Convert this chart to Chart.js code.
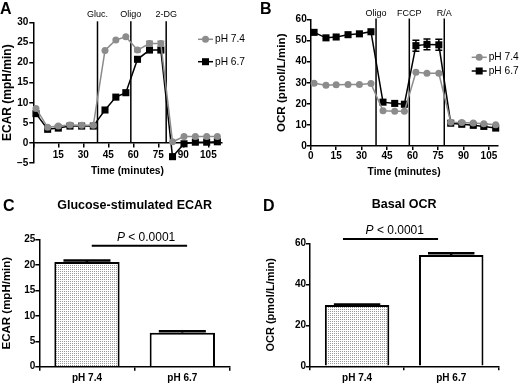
<!DOCTYPE html>
<html>
<head>
<meta charset="utf-8">
<script src="https://cdn.jsdelivr.net/npm/chart.js@4/dist/chart.umd.min.js"></script>
<style>
  body { margin: 0; background: #fff; }
  #fig { position: relative; width: 520px; height: 383px; overflow: hidden; }
  #fig canvas { position: absolute; }
  .tag { position: absolute; font: bold 16px "Liberation Sans", Arial, sans-serif; line-height: 1; }
</style>
</head>
<body>
<div id="fig">
  <canvas id="chartA" width="260" height="195" style="left:0;top:0"></canvas>
  <canvas id="chartB" width="260" height="195" style="left:260px;top:0"></canvas>
  <canvas id="chartC" width="260" height="188" style="left:0;top:195px"></canvas>
  <canvas id="chartD" width="260" height="188" style="left:260px;top:195px"></canvas>
  <div class="tag" style="left:0;top:1px">A</div>
  <div class="tag" style="left:260px;top:1px">B</div>
  <div class="tag" style="left:3px;top:198px">C</div>
  <div class="tag" style="left:263px;top:198px">D</div>
</div>
<script>
// ECAR trace (panel A)
const timeA = [1.6, 8.6, 15, 22, 29, 36, 43, 49.5, 55.5, 62.5, 69.7, 76.5, 83.5, 90.4, 97.2, 104, 110.4];
const ecar74 = [8.6, 3.9, 4.2, 4.5, 4.4, 4.4, 23.0, 25.6, 26.4, 23.1, 24.7, 24.7, 0.3, 1.6, 1.6, 1.6, 1.6];
const ecar74Err = [0, 0, 0, 0, 0, 0, 0, 0, 0, 0.4, 0.6, 0.6, 0, 0, 0, 0, 0];
const ecar67 = [7.3, 3.4, 3.7, 4.2, 4.2, 4.2, 8.2, 11.4, 12.5, 20.8, 23.1, 23.1, -3.4, -0.2, 0.2, 0.2, 0.3];
const injectionsA = [{at: 38.5, label: 'Gluc.'}, {at: 58.5, label: 'Oligo'}, {at: 79.7, label: '2-DG'}];

// OCR trace (panel B)
const timeB = [2, 9, 15, 22, 28.7, 35.5, 42.6, 49.5, 55.2, 62, 68.5, 75.5, 82.5, 89, 95.8, 102, 109];
const ocr74 = [29.8, 28.8, 29.0, 29.2, 29.2, 29.6, 16.7, 16.5, 16.5, 35.0, 34.5, 34.5, 11.3, 11.2, 10.9, 10.6, 10.1];
const ocr67 = [53.9, 51.3, 51.7, 52.8, 53.2, 54.2, 20.8, 20.2, 19.8, 47.6, 48.2, 48.0, 10.8, 10.3, 9.8, 9.3, 8.5];
const ocr67Err = [0, 0, 0, 0, 0, 0, 0, 0, 0, 2.6, 2.6, 2.6, 0, 0, 0, 0, 0];
const injectionsB = [{at: 38.5, label: 'Oligo'}, {at: 58.1, label: 'FCCP'}, {at: 78.7, label: 'R/A'}];

// summary bars (panels C, D)
const groups = ['pH 7.4', 'pH 6.7'];
const glucEcar = [20.6, 6.7];
const glucEcarErr = [0.3, 0.25];
const basalOcr = [29.9, 54.3];
const basalOcrErr = [0.3, 0.8];

const FONT = '"Liberation Sans", Arial, sans-serif';
const GREY = '#8c8c8c';
Chart.defaults.font.family = FONT;
Chart.defaults.color = '#000';
Chart.defaults.animation = false;

function dots() {
  const c = document.createElement('canvas');
  c.width = 2; c.height = 2;
  const g = c.getContext('2d');
  g.fillStyle = '#fff'; g.fillRect(0, 0, 2, 2);
  g.fillStyle = '#999'; g.fillRect(0, 0, 1, 1);
  return g.createPattern(c, 'repeat');
}

const decor = {
  id: 'decor',
  beforeDatasetsDraw(chart, args, opts) {
    const {ctx, chartArea: area, scales: {x, y}} = chart;
    if (!opts.events) return;
    ctx.save();
    ctx.strokeStyle = '#000';
    ctx.lineWidth = 1.5;
    ctx.fillStyle = '#000';
    ctx.font = '9px ' + FONT;
    ctx.textAlign = 'center';
    ctx.textBaseline = 'middle';
    opts.events.forEach(ev => {
      const px = x.getPixelForValue(ev.at);
      ctx.beginPath();
      ctx.moveTo(px, area.top - 1);
      ctx.lineTo(px, y.getPixelForValue(0));
      ctx.stroke();
      ctx.fillText(ev.label, px, area.top - opts.eventGap);
    });
    ctx.restore();
  },
  afterDatasetsDraw(chart, args, opts) {
    const {ctx, scales: {x, y}} = chart;
    const isBar = chart.config.type === 'bar';
    ctx.save();
    // error bars
    chart.data.datasets.forEach((ds, i) => {
      if (!ds.errors) return;
      chart.getDatasetMeta(i).data.forEach((pt, j) => {
        const err = ds.errors[j];
        if (!err) return;
        const v = ds.data[j];
        const val = typeof v === 'number' ? v : v.y;
        const top = y.getPixelForValue(val + err);
        ctx.beginPath();
        if (isBar) {
          const half = pt.width * 0.36;
          ctx.strokeStyle = '#000';
          ctx.lineWidth = 2.5;
          ctx.moveTo(pt.x, pt.y); ctx.lineTo(pt.x, top);
          ctx.moveTo(pt.x - half, top); ctx.lineTo(pt.x + half, top);
        } else {
          const bot = y.getPixelForValue(val - err);
          ctx.strokeStyle = ds.borderColor;
          ctx.lineWidth = 1.5;
          ctx.moveTo(pt.x, bot); ctx.lineTo(pt.x, top);
          ctx.moveTo(pt.x - 3.5, top); ctx.lineTo(pt.x + 3.5, top);
          ctx.moveTo(pt.x - 3.5, bot); ctx.lineTo(pt.x + 3.5, bot);
        }
        ctx.stroke();
      });
    });
    // legend
    if (opts.legend) {
      const L = opts.legend;
      ctx.font = '10.2px ' + FONT;
      ctx.textAlign = 'left';
      ctx.textBaseline = 'middle';
      chart.data.datasets.forEach((ds, i) => {
        const ly = L.y + i * L.step;
        ctx.strokeStyle = ds.borderColor;
        ctx.fillStyle = ds.borderColor;
        ctx.lineWidth = 1.5;
        ctx.beginPath(); ctx.moveTo(L.x, ly); ctx.lineTo(L.x + 15, ly); ctx.stroke();
        if (ds.pointStyle === 'rect') {
          ctx.fillRect(L.x + 4, ly - 3.5, 7, 7);
        } else {
          ctx.beginPath(); ctx.arc(L.x + 7.5, ly, 3.5, 0, Math.PI * 2); ctx.fill();
        }
        ctx.fillStyle = '#000';
        ctx.fillText(ds.label, L.x + 17, ly);
      });
    }
    // significance bar
    if (opts.bracket) {
      const b = opts.bracket;
      const by = y.getPixelForValue(b.y);
      ctx.strokeStyle = '#000';
      ctx.lineWidth = 2;
      ctx.beginPath();
      ctx.moveTo(x.getPixelForValue(b.from), by);
      ctx.lineTo(x.getPixelForValue(b.to), by);
      ctx.stroke();
      const itFont = 'italic 12px ' + FONT;
      const rgFont = '12px ' + FONT;
      ctx.font = itFont; const w1 = ctx.measureText('P').width;
      ctx.font = rgFont; const w2 = ctx.measureText(' < 0.0001').width;
      const tx = x.getPixelForValue(b.textAt) - (w1 + w2) / 2;
      const ty = y.getPixelForValue(b.textY);
      ctx.fillStyle = '#000';
      ctx.textAlign = 'left';
      ctx.textBaseline = 'middle';
      ctx.font = itFont; ctx.fillText('P', tx, ty);
      ctx.font = rgFont; ctx.fillText(' < 0.0001', tx + w1, ty);
    }
    ctx.restore();
  }
};

const axisGrid = {display: true, drawOnChartArea: false, color: '#000', lineWidth: 1.5, tickLength: 4};
const axisBorder = {color: '#000', width: 1.5};

function traceDatasets(times, vGrey, vBlack, errGrey, errBlack) {
  return [{
    label: 'pH 7.4',
    data: times.map((t, i) => ({x: t, y: vGrey[i]})),
    errors: errGrey,
    borderColor: GREY, backgroundColor: GREY, pointBackgroundColor: GREY,
    borderWidth: 1.5, pointStyle: 'circle', pointRadius: 3.5, pointBorderWidth: 0,
    tension: 0, clip: false
  }, {
    label: 'pH 6.7',
    data: times.map((t, i) => ({x: t, y: vBlack[i]})),
    errors: errBlack,
    borderColor: '#000', backgroundColor: '#000', pointBackgroundColor: '#000',
    borderWidth: 1.5, pointStyle: 'rect', pointRadius: 5, pointBorderWidth: 0,
    tension: 0, clip: false
  }];
}

// Panel A
new Chart(document.getElementById('chartA'), {
  type: 'line',
  data: {datasets: traceDatasets(timeA, ecar74, ecar67, ecar74Err, null)},
  options: {
    responsive: false,
    layout: {padding: {left: 0, top: 22.3, right: 38.3, bottom: 31.9}},
    plugins: {
      legend: {display: false}, tooltip: {enabled: false},
      decor: {events: injectionsA, eventGap: 7.3, legend: {x: 198, y: 39.3, step: 22.4}}
    },
    scales: {
      x: {
        type: 'linear', min: 0, max: 113, position: {y: 0},
        grid: axisGrid, border: axisBorder,
        ticks: {stepSize: 15, includeBounds: false, padding: 2.7, maxRotation: 0,
          font: {size: 10, weight: 'bold'}, callback: v => v === 0 ? '' : v},
        title: {display: true, text: 'Time (minutes)', padding: 0,
          font: {size: 10.3, weight: 'bold', lineHeight: 1}},
        afterFit: s => { s.height = 33.8; }
      },
      y: {
        min: -5, max: 30,
        grid: axisGrid, border: axisBorder,
        ticks: {stepSize: 5, padding: 1, font: {size: 10, weight: 'bold'},
          callback: v => v < 0 ? '\u2212' + Math.abs(v) : v},
        title: {display: true, text: 'ECAR (mpH/min)', padding: {top: 1.3, bottom: 0},
          font: {size: 12, weight: 'bold', lineHeight: 1}},
        afterFit: s => { s.width = 33.3; }
      }
    }
  },
  plugins: [decor]
});

// Panel B
new Chart(document.getElementById('chartB'), {
  type: 'line',
  data: {datasets: traceDatasets(timeB, ocr74, ocr67, null, ocr67Err)},
  options: {
    responsive: false,
    layout: {padding: {left: 0, top: 19.5, right: 22.6, bottom: 17.5}},
    plugins: {
      legend: {display: false}, tooltip: {enabled: false},
      decor: {events: injectionsB, eventGap: 5.5, legend: {x: 211.7, y: 57.3, step: 13.7}}
    },
    scales: {
      x: {
        type: 'linear', min: 0, max: 110,
        grid: axisGrid, border: axisBorder,
        ticks: {stepSize: 15, includeBounds: false, padding: 0.7, maxRotation: 0,
          font: {size: 10, weight: 'bold'}},
        title: {display: true, text: 'Time (minutes)', padding: 0,
          font: {size: 10.3, weight: 'bold', lineHeight: 1}},
        afterFit: s => { s.height = 31.5; }
      },
      y: {
        min: 0, max: 60,
        grid: axisGrid, border: axisBorder,
        ticks: {stepSize: 10, padding: 0, font: {size: 10, weight: 'bold'}},
        title: {display: true, text: 'OCR (pmol/L/min)', padding: {top: 15.9, bottom: 0},
          font: {size: 11.6, weight: 'bold', lineHeight: 1}},
        afterFit: s => { s.width = 50.7; }
      }
    }
  },
  plugins: [decor]
});

function barChart(id, values, errs, opt) {
  return new Chart(document.getElementById(id), {
    type: 'bar',
    data: {
      labels: groups,
      datasets: [{
        data: values, errors: errs,
        backgroundColor: [dots(), '#fff'],
        borderColor: '#000', borderWidth: 2,
        barPercentage: 0.685, categoryPercentage: 1
      }]
    },
    options: {
      responsive: false,
      layout: {padding: {left: 0, top: 0, right: opt.padRight, bottom: 0}},
      plugins: {
        legend: {display: false}, tooltip: {enabled: false},
        title: {display: true, text: opt.title, fullSize: false,
          padding: {top: opt.titleTop, bottom: opt.titleBottom},
          font: {size: 12.5, weight: 'bold', lineHeight: 1}},
        decor: {bracket: opt.bracket}
      },
      scales: {
        x: {
          grid: axisGrid, border: axisBorder,
          ticks: {padding: opt.xPad, font: {size: 10, weight: 'bold'}},
          afterFit: s => { s.height = opt.xHeight; }
        },
        y: {
          min: 0, max: opt.max,
          grid: axisGrid, border: axisBorder,
          ticks: {stepSize: opt.step, padding: 0, font: {size: 10, weight: 'bold'}},
          title: {display: true, text: opt.yTitle, padding: {top: opt.yTitlePad, bottom: 0},
            font: {size: opt.yTitleSize, weight: 'bold', lineHeight: 1}},
          afterFit: s => { s.width = opt.yWidth; }
        }
      }
    },
    plugins: [decor]
  });
}

// Panel C
barChart('chartC', glucEcar, glucEcarErr, {
  title: 'Glucose-stimulated ECAR', yTitle: 'ECAR (mpH/min)', yTitleSize: 11.5,
  max: 25, step: 5, yWidth: 39.3, padRight: 30, yTitlePad: 1,
  titleTop: 4.45, titleBottom: 27.65, xHeight: 16.3, xPad: 1.6,
  bracket: {from: 0.05, to: 1.05, y: 23.8, textAt: 0.62, textY: 25.4}
});

// Panel D
barChart('chartD', basalOcr, basalOcrErr, {
  title: 'Basal OCR', yTitle: 'OCR (pmol/L/min)', yTitleSize: 11,
  max: 60, step: 20, yWidth: 50, padRight: 21.7, yTitlePad: 5.2,
  titleTop: 3.75, titleBottom: 32.05, xHeight: 16.7, xPad: 2,
  bracket: {from: -0.15, to: 0.86, y: 62.1, textAt: 0.40, textY: 66}
});
</script>
</body>
</html>
